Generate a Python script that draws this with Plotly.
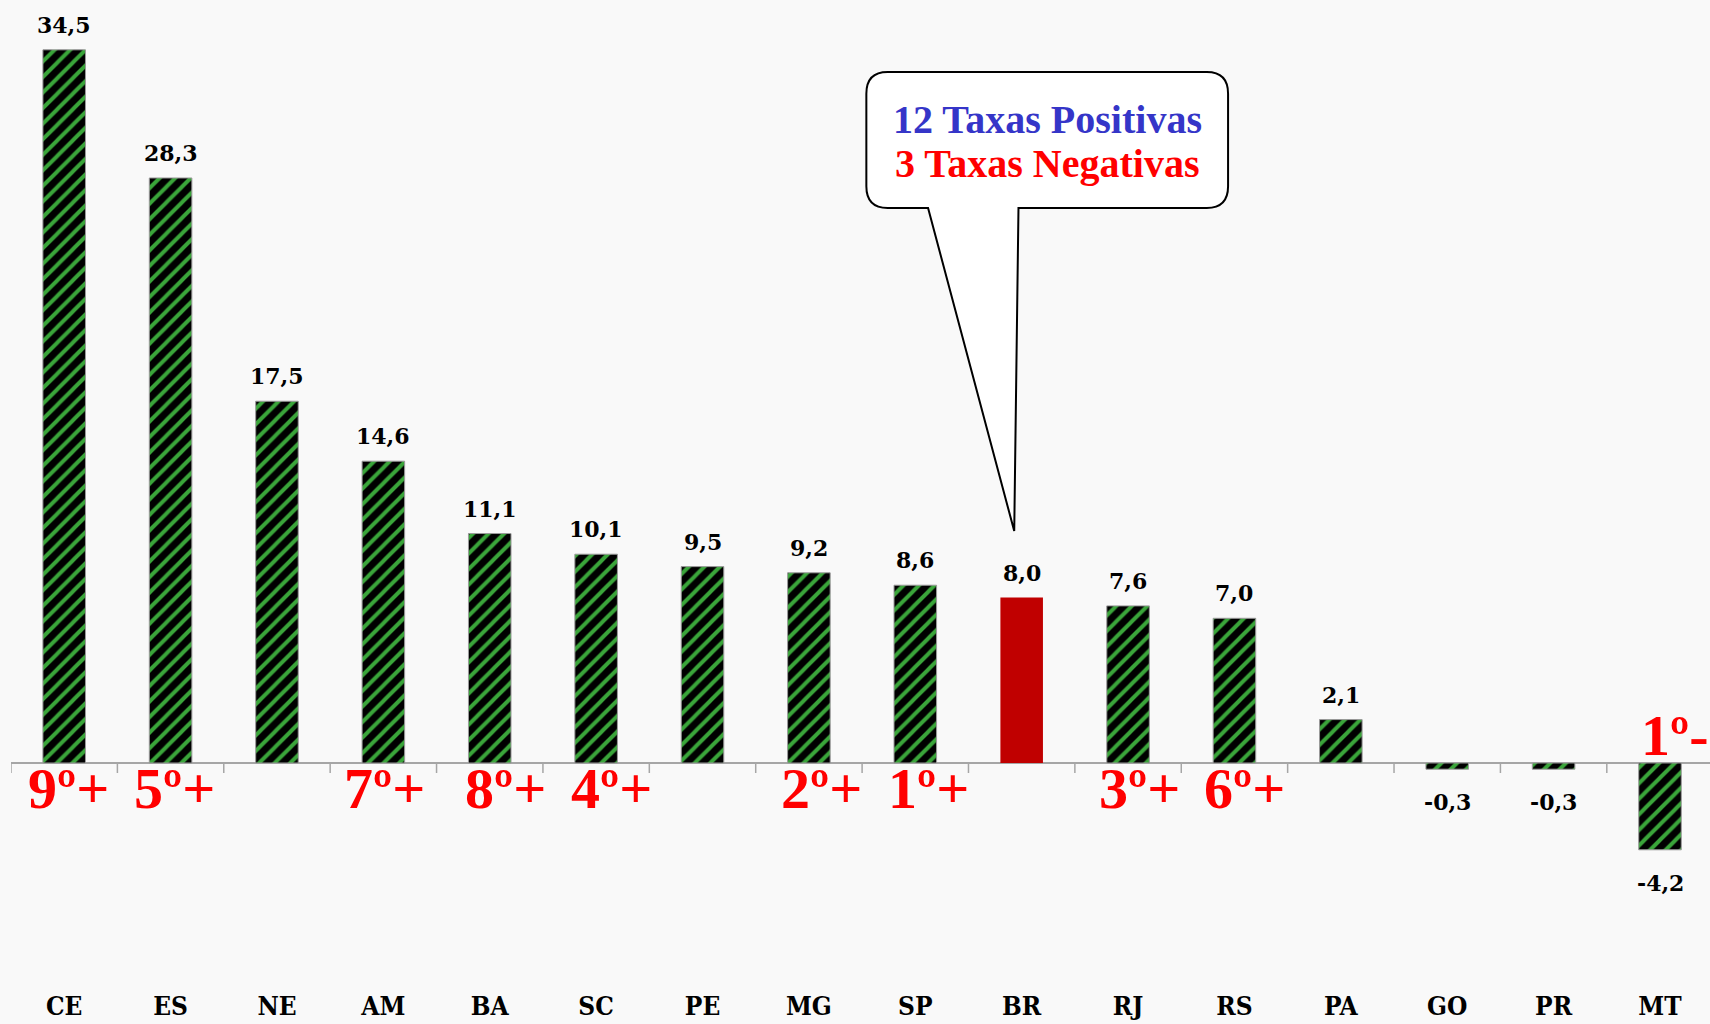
import plotly.graph_objects as go

# ---- data ----
categories = ["CE", "ES", "NE", "AM", "BA", "SC", "PE", "MG", "SP", "BR", "RJ", "RS", "PA", "GO", "PR", "MT"]
values = [34.5, 28.3, 17.5, 14.6, 11.1, 10.1, 9.5, 9.2, 8.6, 8.0, 7.6, 7.0, 2.1, -0.3, -0.3, -4.2]
ranks = ["9º+", "5º+", "", "7º+", "8º+", "4º+", "", "2º+", "1º+", "", "3º+", "6º+", "", "", "", "1º-"]
rank_xshift = [4, 4, 0, 1, 16, 15, 0, 13, 13, 0, 11, 10, 0, 0, 0, 14]
highlight = "BR"
callout_lines = ["12 Taxas Positivas", "3 Taxas Negativas"]

BG = "#f9f9f9"
GREEN = "#3aa53a"
HILITE = "#c00000"

idx = list(range(len(categories)))
hi = categories.index(highlight)

fig = go.Figure()

# hatched bars
hatch_x = [i for i, c in enumerate(categories) if c != highlight]
hatch_y = [values[i] for i in hatch_x]
fig.add_trace(go.Bar(
    x=hatch_x, y=hatch_y, width=0.4,
    marker=dict(color="black", line=dict(color="#9a9a9a", width=1),
                pattern=dict(shape="/", fgcolor=GREEN, bgcolor="black", fgopacity=1,
                             size=11, solidity=0.36, fillmode="overlay")),
    hoverinfo="skip", showlegend=False,
))
# highlighted bar
fig.add_trace(go.Bar(
    x=[hi], y=[values[hi]], width=0.4,
    marker=dict(color=HILITE, line=dict(width=0)),
    hoverinfo="skip", showlegend=False,
))

annotations = []
# value labels
for i, v in zip(idx, values):
    txt = f"{v:.1f}".replace(".", ",")
    if v >= 0:
        annotations.append(dict(x=i, y=v, text=txt, showarrow=False, yanchor="bottom",
                                yshift=10, font=dict(family="DejaVu Serif", size=22, color="black",
                                                     weight="bold")))
    else:
        annotations.append(dict(x=i, y=v, text=txt, showarrow=False, yanchor="top",
                                yshift=-18, font=dict(family="DejaVu Serif", size=22, color="black",
                                                      weight="bold")))
# rank labels
for i, (r, xs) in enumerate(zip(ranks, rank_xshift)):
    if not r:
        continue
    neg = r.endswith("-")
    annotations.append(dict(x=i, y=0, text=r, showarrow=False, yanchor="middle",
                            xanchor="center", xshift=xs, yshift=(27 if neg else -26),
                            font=dict(family="Liberation Serif", size=58, color="#ff0000",
                                      weight="bold")))

# callout (speech bubble) relative to the highlighted category
L, R, T, B = hi - 1.46, hi + 1.94, 33.43, 26.85
bx1, bx2 = hi - 0.88, hi - 0.03
tipx, tipy = hi - 0.07, 11.22
rx, ry = 0.2, 1.05
path = (f"M {L+rx},{T} L {R-rx},{T} Q {R},{T} {R},{T-ry} L {R},{B+ry} Q {R},{B} {R-rx},{B} "
        f"L {bx2},{B} L {tipx},{tipy} L {bx1},{B} L {L+rx},{B} Q {L},{B} {L},{B+ry} "
        f"L {L},{T-ry} Q {L},{T} {L+rx},{T} Z")
shapes = [dict(type="path", path=path, xref="x", yref="y", fillcolor="white",
               line=dict(color="black", width=2), layer="above")]

cx = (L + R) / 2
annotations.append(dict(x=cx, y=31.15, text=callout_lines[0], showarrow=False,
                        font=dict(family="Liberation Serif", size=40, color="#3535c8", weight="bold")))
annotations.append(dict(x=cx, y=29.0, text=callout_lines[1], showarrow=False,
                        font=dict(family="Liberation Serif", size=40, color="#ff0000", weight="bold")))

# category boundary ticks hanging below the zero line
for k in range(len(categories) + 1):
    shapes.append(dict(type="line", xref="x", yref="y", x0=k - 0.5, x1=k - 0.5,
                       ysizemode="pixel", yanchor=0, y0=0, y1=-10,
                       line=dict(color="#a6a6a6", width=1.5), layer="below"))

fig.update_layout(
    width=1710, height=1024,
    paper_bgcolor=BG, plot_bgcolor=BG,
    margin=dict(l=11, r=0, t=0, b=36, autoexpand=False),
    bargap=0.6,
    annotations=annotations,
    shapes=shapes,
    showlegend=False,
)
fig.update_xaxes(
    range=[-0.5, 15.47], tickmode="array", tickvals=idx, ticktext=categories,
    showgrid=False, zeroline=False, showline=False, ticks="", automargin=False,
    tickfont=dict(family="DejaVu Serif Condensed, DejaVu Serif", size=26, color="black", weight="bold"),
    fixedrange=True,
)
fig.update_yaxes(
    range=[-10.885, 36.91], showgrid=False, showticklabels=False, ticks="", automargin=False,
    zeroline=True, zerolinecolor="#a6a6a6", zerolinewidth=2, fixedrange=True,
)

fig.write_html("out.html", config={"displayModeBar": False},
               post_script="document.body.style.margin='0';document.body.style.overflow='hidden';")
